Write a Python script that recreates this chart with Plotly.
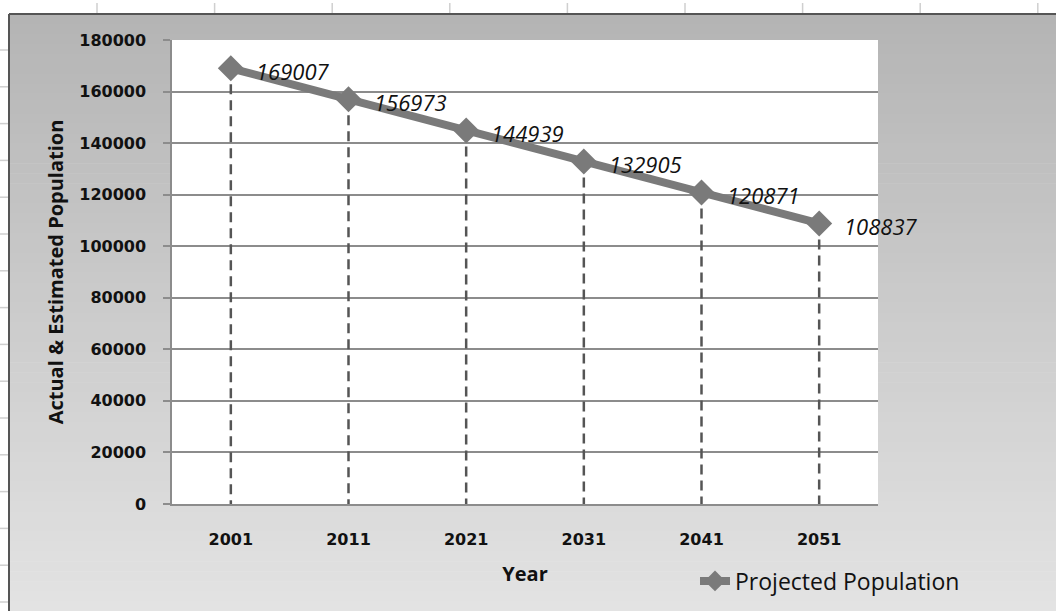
import plotly.graph_objects as go

years = ["2001", "2011", "2021", "2031", "2041", "2051"]
population = [169007, 156973, 144939, 132905, 120871, 108837]
y_ticks = [0, 20000, 40000, 60000, 80000, 100000, 120000, 140000, 160000, 180000]
series_name = "Projected Population"

W, H = 1056, 611
L, R, T, B = 172, 878, 40, 504

def px(X):
    return (X - L) / (R - L)

def py(Y):
    return (B - Y) / (B - T)

shapes = []
# gradient background (chart area)
n = 60
top_c, bot_c = 0xb4, 0xe3
y0, y1 = 14, 611
for i in range(n):
    ya = y0 + (y1 - y0) * i / n
    yb = y0 + (y1 - y0) * (i + 1) / n + 0.6
    c = int(round(top_c + (bot_c - top_c) * (i + 0.5) / n))
    shapes.append(dict(type="rect", xref="paper", yref="paper", layer="below",
                       x0=px(9), x1=px(W + 5), y0=py(yb), y1=py(ya),
                       line=dict(width=0), fillcolor=f"rgb({c},{c},{c})"))
# white plot area
shapes.append(dict(type="rect", xref="paper", yref="paper", layer="below",
                   x0=0, x1=1, y0=0, y1=1, line=dict(width=0), fillcolor="white"))
# spreadsheet decoration
for k in range(9):
    X = 97 + 117.6 * k
    shapes.append(dict(type="line", xref="paper", yref="paper", layer="below",
                       x0=px(X), x1=px(X), y0=py(3), y1=py(14),
                       line=dict(color="#cfcfcf", width=1.5)))
for k in range(16):
    Y = 50 + 36.8 * k
    shapes.append(dict(type="line", xref="paper", yref="paper", layer="below",
                       x0=px(0), x1=px(8), y0=py(Y), y1=py(Y),
                       line=dict(color="#cfcfcf", width=1.5)))
# chart border
shapes.append(dict(type="line", xref="paper", yref="paper", layer="below",
                   x0=px(9), x1=px(W + 5), y0=py(14), y1=py(14),
                   line=dict(color="#555555", width=2)))
shapes.append(dict(type="line", xref="paper", yref="paper", layer="below",
                   x0=px(9), x1=px(9), y0=py(14), y1=py(H + 5),
                   line=dict(color="#555555", width=2)))

# drop lines
drop_x, drop_y = [], []
for yr, v in zip(years, population):
    drop_x += [yr, yr, None]
    drop_y += [v, 0, None]

fig = go.Figure()
fig.add_trace(go.Scatter(x=drop_x, y=drop_y, mode="lines", showlegend=False,
                         hoverinfo="skip",
                         line=dict(color="#555555", width=2.5, dash="10px,6px")))
fig.add_trace(go.Scatter(x=years, y=population, mode="lines+markers", name=series_name,
                         line=dict(color="#7a7a7a", width=8),
                         marker=dict(symbol="diamond", size=20, color="#7a7a7a")))

annotations = []
for i, v in enumerate(population):
    annotations.append(dict(x=i, y=v, xref="x", yref="y", text=f"<i>{v}</i>",
                            showarrow=False, xanchor="left", yanchor="middle",
                            xshift=23, yshift=-3,
                            font=dict(family="Open Sans", size=22, color="#111111")))

fig.update_layout(
    width=W, height=H,
    margin=dict(l=L, r=W - R, t=T, b=H - B, autoexpand=False),
    paper_bgcolor="white",
    plot_bgcolor="rgba(0,0,0,0)",
    shapes=shapes,
    annotations=annotations,
    showlegend=True,
    legend=dict(x=px(695), y=py(581), xanchor="left", yanchor="middle",
                bgcolor="rgba(0,0,0,0)",
                font=dict(family="Open Sans", size=23, color="#111111")),
    xaxis=dict(type="category", range=[-0.5, 5.5], showgrid=False,
               showline=True, linecolor="#8c8c8c", linewidth=1.5,
               ticks="", ticklabelstandoff=20,
               tickfont=dict(family="DejaVu Sans", size=16, color="#111111", weight="bold"),
               title=dict(text="Year", standoff=19,
                          font=dict(family="Open Sans", size=20, color="#111111", weight="bold"))),
    yaxis=dict(range=[0, 180000], tickvals=y_ticks, ticktext=[str(t) for t in y_ticks],
               showgrid=True, gridcolor="#8c8c8c", gridwidth=1.5,
               showline=True, linecolor="#8c8c8c", linewidth=1.5,
               ticks="outside", ticklen=7, tickcolor="#8c8c8c", tickwidth=1.5,
               ticklabelstandoff=14, zeroline=False,
               tickfont=dict(family="DejaVu Sans", size=16, color="#111111", weight="bold"),
               title=dict(text="Actual & Estimated Population", standoff=10,
                          font=dict(family="Open Sans", size=20, color="#111111", weight="bold"))),
)

fig.write_html("out.html", config={"displayModeBar": False},
               post_script="document.body.style.margin='0';")
